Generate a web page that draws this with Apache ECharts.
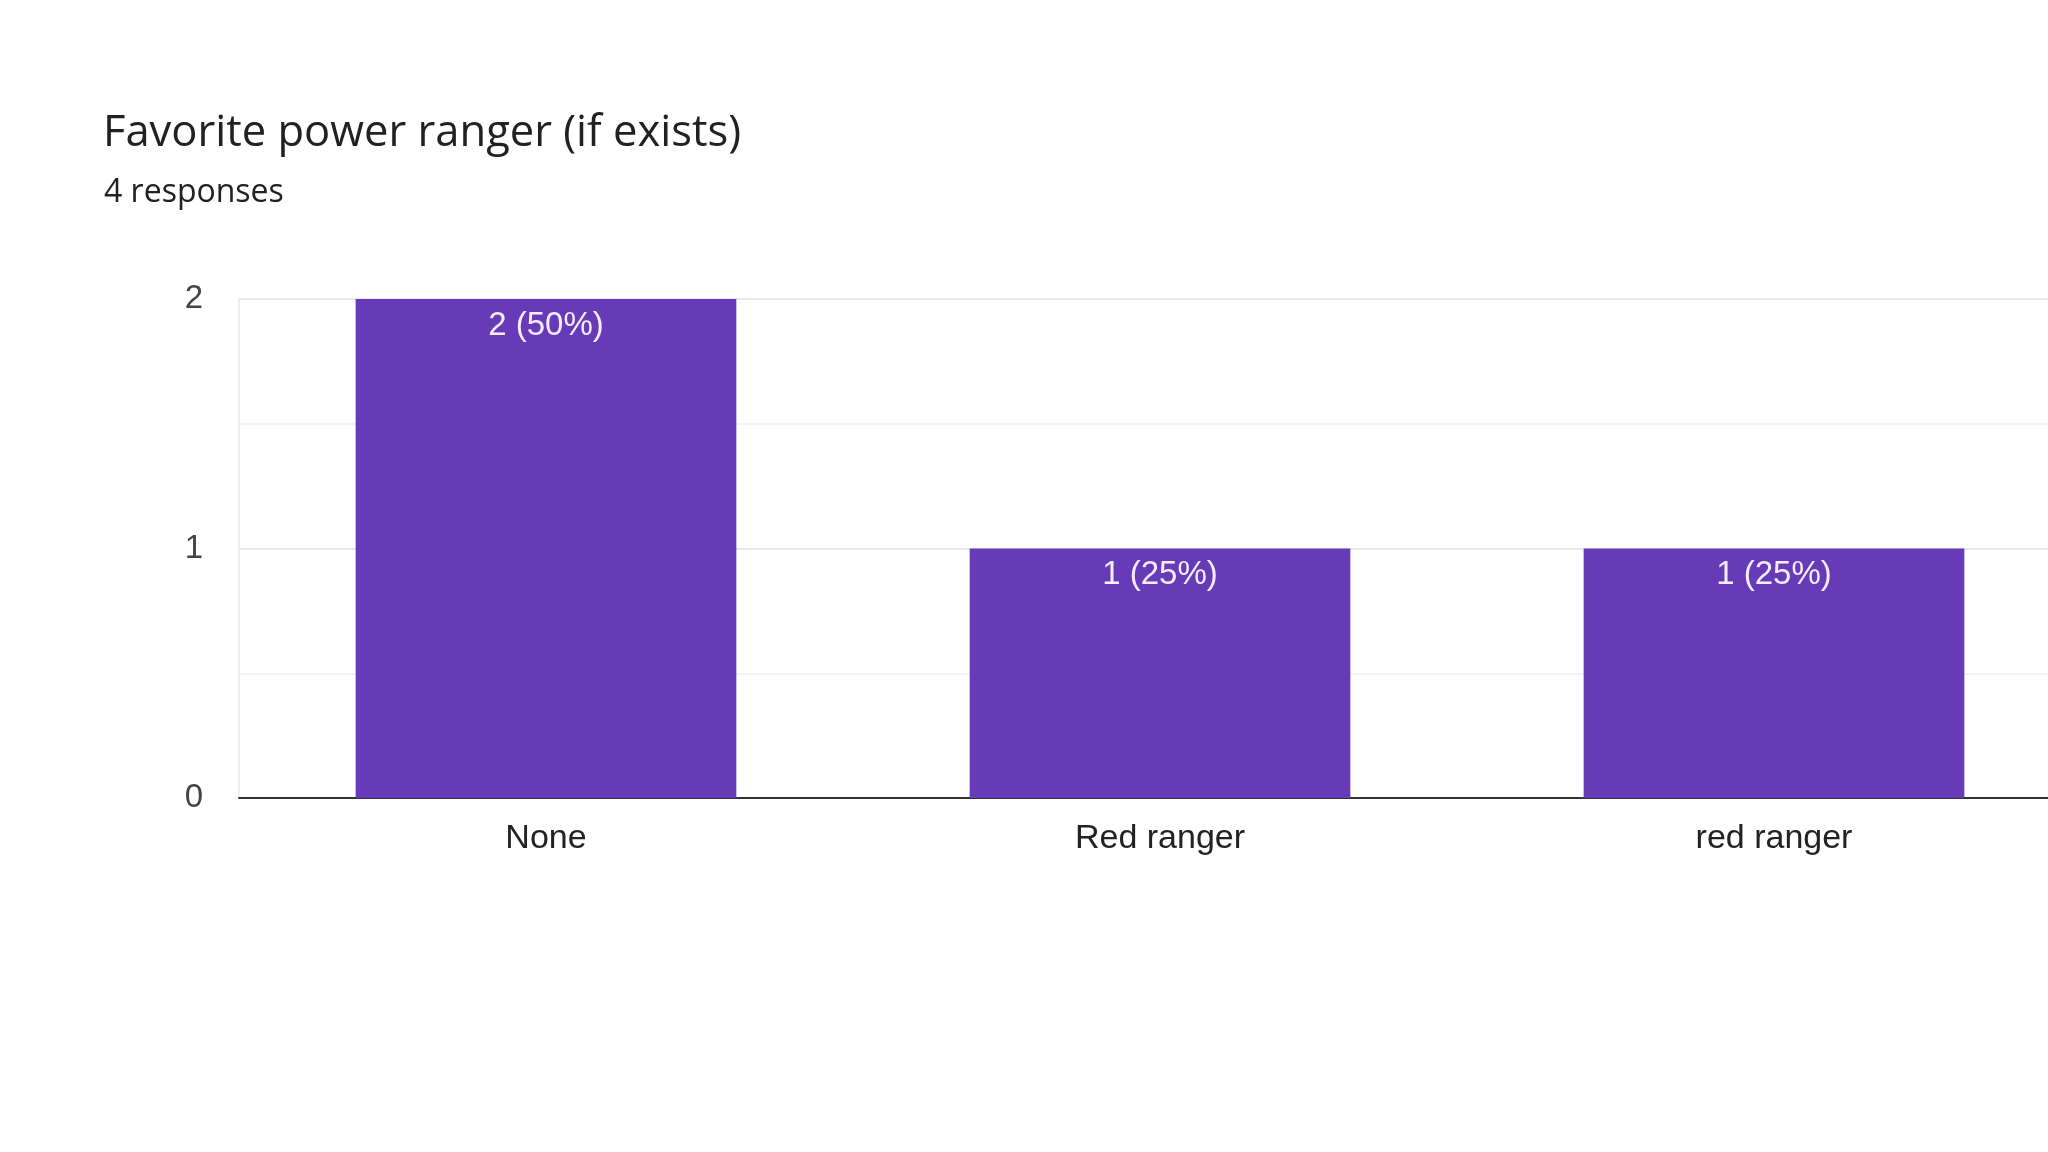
<!DOCTYPE html>
<html>
<head>
<meta charset="utf-8">
<style>
  html, body { margin: 0; padding: 0; background: #ffffff; overflow: hidden; width: 2048px; height: 1152px; }
  #chart { width: 2081px; height: 1152px; }
</style>
<script src="https://cdn.jsdelivr.net/npm/echarts@6/dist/echarts.min.js"></script>
</head>
<body>
<div id="chart"></div>
<script>
const titleText = 'Favorite power ranger (if exists)';
const subtitleText = '4 responses';
const categories = ['None', 'Red ranger', 'red ranger'];
const counts = [2, 1, 1];
const totalResponses = 4;
const yTicks = [0, 1, 2];

const chart = echarts.init(document.getElementById('chart'));
chart.setOption({
  backgroundColor: '#ffffff',
  animation: false,
  title: [
    {
      text: titleText,
      left: 98,
      top: 107,
      textStyle: { fontFamily: 'Open Sans', fontSize: 43.5, fontWeight: 'normal', color: '#202124' }
    },
    {
      text: subtitleText,
      left: 99,
      top: 172,
      textStyle: { fontFamily: 'Open Sans', fontSize: 32, fontWeight: 'normal', color: '#202124' }
    }
  ],
  grid: { left: 239, top: 299, bottom: 354, right: 0, containLabel: false },
  xAxis: {
    type: 'category',
    data: categories,
    axisLine: { show: true, lineStyle: { color: '#333333', width: 2 } },
    axisTick: { show: false },
    axisLabel: { fontFamily: 'Liberation Sans', fontSize: 34, color: '#222222', margin: 24 },
    splitLine: { show: false }
  },
  yAxis: {
    type: 'value',
    min: yTicks[0],
    max: yTicks[yTicks.length - 1],
    interval: 1,
    axisLine: { show: true, lineStyle: { color: '#eeeeee', width: 2 } },
    axisTick: { show: false },
    axisLabel: { fontFamily: 'Liberation Sans', fontSize: 33, color: '#444444', margin: 36 },
    splitLine: { show: true, lineStyle: { color: '#e9e9e9', width: 2 } },
    minorTick: { show: false, splitNumber: 2 },
    minorSplitLine: { show: true, lineStyle: { color: '#f4f4f4', width: 2 } }
  },
  series: [{
    type: 'bar',
    data: counts,
    barWidth: '62%',
    itemStyle: { color: '#673ab7' },
    label: {
      show: true,
      position: 'insideTop',
      distance: 10,
      fontFamily: 'Liberation Sans',
      fontSize: 33,
      color: '#f3edff',
      formatter: p => p.value + ' (' + Math.round(p.value / totalResponses * 100) + '%)'
    }
  }]
});
</script>
</body>
</html>
